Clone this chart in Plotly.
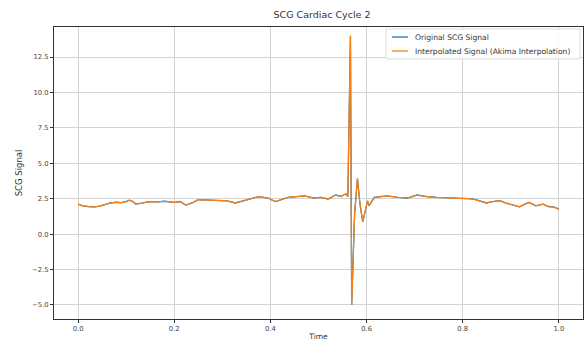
import plotly.graph_objects as go

# ---- data ----
time = [0.0, 0.01, 0.02, 0.035, 0.045, 0.056, 0.066, 0.078, 0.09, 0.1, 0.107, 0.114, 0.12,
        0.135, 0.148, 0.165, 0.18, 0.2, 0.212, 0.224, 0.237, 0.25, 0.27, 0.29, 0.31, 0.327,
        0.35, 0.375, 0.395, 0.41, 0.437, 0.455, 0.471, 0.49, 0.505, 0.52, 0.536, 0.547,
        0.553, 0.557, 0.561, 0.5664, 0.569, 0.575, 0.581, 0.586, 0.592, 0.598, 0.602,
        0.605, 0.61, 0.616, 0.623, 0.643, 0.665, 0.685, 0.705, 0.725, 0.746, 0.77, 0.794,
        0.81, 0.822, 0.835, 0.849, 0.862, 0.877, 0.89, 0.905, 0.918, 0.928, 0.938, 0.952,
        0.967, 0.978, 0.99, 1.0]
original = [2.12, 2.0, 1.95, 1.93, 1.97, 2.1, 2.19, 2.25, 2.22, 2.3, 2.4, 2.3, 2.12,
            2.2, 2.3, 2.27, 2.32, 2.24, 2.3, 2.05, 2.2, 2.43, 2.4, 2.36, 2.35, 2.2,
            2.4, 2.64, 2.55, 2.3, 2.6, 2.65, 2.7, 2.55, 2.6, 2.48, 2.76, 2.66,
            2.8, 2.85, 2.65, 14.0, -5.0, 1.4, 3.93, 2.2, 0.86, 1.9, 2.35,
            2.0, 2.3, 2.6, 2.62, 2.7, 2.6, 2.55, 2.76, 2.65, 2.6, 2.58, 2.55,
            2.5, 2.48, 2.35, 2.2, 2.3, 2.36, 2.19, 2.05, 1.93, 2.1, 2.24, 2.0,
            2.12, 1.95, 1.9, 1.76]
interpolated = list(original)

series_names = ["Original SCG Signal", "Interpolated Signal (Akima Interpolation)"]
series_colors = ["#1f77b4", "#ff7f0e"]

x_ticks = [0.0, 0.2, 0.4, 0.6, 0.8, 1.0]
x_tick_labels = ["0.0", "0.2", "0.4", "0.6", "0.8", "1.0"]
y_ticks = [-5.0, -2.5, 0.0, 2.5, 5.0, 7.5, 10.0, 12.5]
y_tick_labels = ["\u22125.0", "\u22122.5", "0.0", "2.5", "5.0", "7.5", "10.0", "12.5"]

FONT = "DejaVu Sans"
TXT = "#333333"

fig = go.Figure()
fig.add_trace(go.Scatter(x=time, y=original, mode="lines", name=series_names[0],
                         line=dict(color=series_colors[0], width=1.3)))
fig.add_trace(go.Scatter(x=time, y=interpolated, mode="lines", name=series_names[1],
                         line=dict(color=series_colors[1], width=1.2)))

axis_common = dict(showline=True, linecolor="#333333", linewidth=1, mirror=True,
                   showgrid=True, gridcolor="#d3d3d3", gridwidth=1, zeroline=False,
                   ticks="outside", ticklen=3, tickcolor="#333333", automargin=False,
                   tickfont=dict(family=FONT, size=6.8, color="#444444"))

fig.update_layout(
    width=585, height=341,
    margin=dict(l=54, r=2, t=27, b=22),
    paper_bgcolor="white", plot_bgcolor="white",
    showlegend=False,
    title=dict(text="SCG Cardiac Cycle 2", x=322 / 585, xanchor="center",
               y=1 - 15 / 341, yanchor="middle",
               font=dict(family=FONT, size=9.5, color=TXT)),
    xaxis=dict(range=[-0.05, 1.05], tickvals=x_ticks, ticktext=x_tick_labels,
               title=dict(text="Time", standoff=6,
                          font=dict(family=FONT, size=7.5, color=TXT)),
               **axis_common),
    yaxis=dict(range=[-5.99, 14.62], tickvals=y_ticks, ticktext=y_tick_labels,
               title=dict(text="SCG Signal", standoff=8,
                          font=dict(family=FONT, size=8.5, color=TXT)),
               **axis_common),
)

# ---- legend drawn in paper coordinates (matplotlib-like compact legend) ----
W, H, L, B = 529, 292, 54, 319
def px(x):
    return (x - L) / W
def py(y):
    return (B - y) / H

fig.add_shape(type="rect", xref="paper", yref="paper",
              x0=px(386), x1=px(580), y0=py(59), y1=py(29),
              line=dict(color="#dddddd", width=1), fillcolor="rgba(255,255,255,0.85)",
              layer="above")
rows_y = [37, 51]
for name, color, ry in zip(series_names, series_colors, rows_y):
    fig.add_shape(type="line", xref="paper", yref="paper",
                  x0=px(392), x1=px(408), y0=py(ry), y1=py(ry),
                  line=dict(color=color, width=1.3), layer="above")
    fig.add_annotation(xref="paper", yref="paper", x=px(413), y=py(ry),
                       xanchor="left", yanchor="middle", showarrow=False,
                       text=name, font=dict(family=FONT, size=7.6, color=TXT))

fig.write_html("out.html")
